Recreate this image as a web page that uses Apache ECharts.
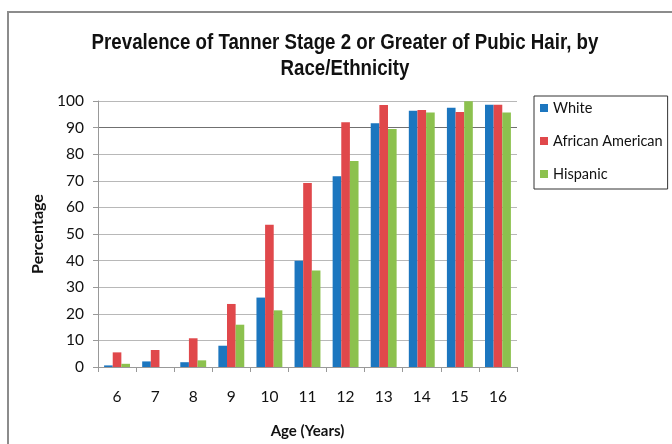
<!DOCTYPE html>
<html><head><meta charset="utf-8">
<script src="https://cdn.jsdelivr.net/npm/echarts@6/dist/echarts.min.js"></script>
<style>html,body{margin:0;padding:0;background:#fff}#c{width:672px;height:444px}</style>
</head><body><div id="c"></div>
<script>
const categories = ['6','7','8','9','10','11','12','13','14','15','16'];
const white = [0.6, 2.1, 1.8, 8.0, 26.1, 39.9, 71.7, 91.6, 96.3, 97.5, 98.6];
const africanAmerican = [5.5, 6.4, 10.8, 23.7, 53.5, 69.2, 92.0, 98.5, 96.6, 95.9, 98.6];
const hispanic = [1.2, 0, 2.5, 15.9, 21.3, 36.3, 77.4, 89.5, 95.7, 99.9, 95.7];
const seriesNames = ['White', 'African American', 'Hispanic'];
const titleText = 'Prevalence of Tanner Stage 2 or Greater of Pubic Hair, by\nRace/Ethnicity';
const colors = ['#1c76bf', '#e0484b', '#8cc14e'];

const chart = echarts.init(document.getElementById('c'));
const lbl = "Lato, 'Open Sans', sans-serif";
const gridColors = ['#b8b8b8','#b8b8b8','#b8b8b8','#b8b8b8','#b8b8b8','#b8b8b8','#b8b8b8','#b8b8b8','#b8b8b8','#707070','#b8b8b8'];
chart.setOption({
  animation: false,
  graphic: [{
    type: 'rect', shape: {x: 8, y: 12, width: 700, height: 500},
    style: {fill: 'none', stroke: '#8c8c8c', lineWidth: 2}, silent: true
  }, {
    type: 'text', x: 345, y: 30, scaleX: 0.85, silent: true,
    style: {
      text: titleText, fill: '#111', align: 'center', verticalAlign: 'top',
      fontFamily: "'Liberation Sans', Arial, sans-serif", fontWeight: 'bold', fontSize: 22, lineHeight: 26
    }
  }],
  legend: {
    orient: 'vertical', left: 534, top: 96, itemGap: 15,
    itemWidth: 8, itemHeight: 8, icon: 'rect',
    padding: [3, 5, 6, 6],
    borderColor: '#333', borderWidth: 1,
    textStyle: {fontFamily: lbl, fontSize: 14.5, color: '#111', height: 18, lineHeight: 18},
    data: seriesNames
  },
  grid: {left: 98, right: 155, top: 101, bottom: 72},
  xAxis: {
    type: 'category', data: categories,
    name: 'Age (Years)', nameLocation: 'middle', nameGap: 57,
    nameTextStyle: {fontFamily: lbl, fontWeight: 'bold', fontSize: 15, color: '#111'},
    axisLine: {lineStyle: {color: '#999'}},
    axisTick: {show: true, alignWithLabel: false, length: 5, lineStyle: {color: '#999'}},
    axisLabel: {fontFamily: lbl, fontSize: 15.5, color: '#111', margin: 22}
  },
  yAxis: {
    type: 'value', min: 0, max: 100, interval: 10,
    name: 'Percentage', nameLocation: 'middle', nameGap: 50, nameRotate: 90,
    nameTextStyle: {fontFamily: lbl, fontWeight: 'bold', fontSize: 16, color: '#111'},
    axisLine: {show: true, lineStyle: {color: '#999'}},
    axisTick: {show: true, length: 5, lineStyle: {color: '#999'}},
    axisLabel: {fontFamily: lbl, fontSize: 15.5, color: '#111', margin: 14},
    splitLine: {lineStyle: {color: gridColors, width: 1.2}}
  },
  series: [
    {name: seriesNames[0], type: 'bar', data: white, itemStyle: {color: colors[0]}, barGap: '0%', barCategoryGap: '32%'},
    {name: seriesNames[1], type: 'bar', data: africanAmerican, itemStyle: {color: colors[1]}, barGap: '0%', barCategoryGap: '32%'},
    {name: seriesNames[2], type: 'bar', data: hispanic, itemStyle: {color: colors[2]}, barGap: '0%', barCategoryGap: '32%'}
  ]
});
</script></body></html>
